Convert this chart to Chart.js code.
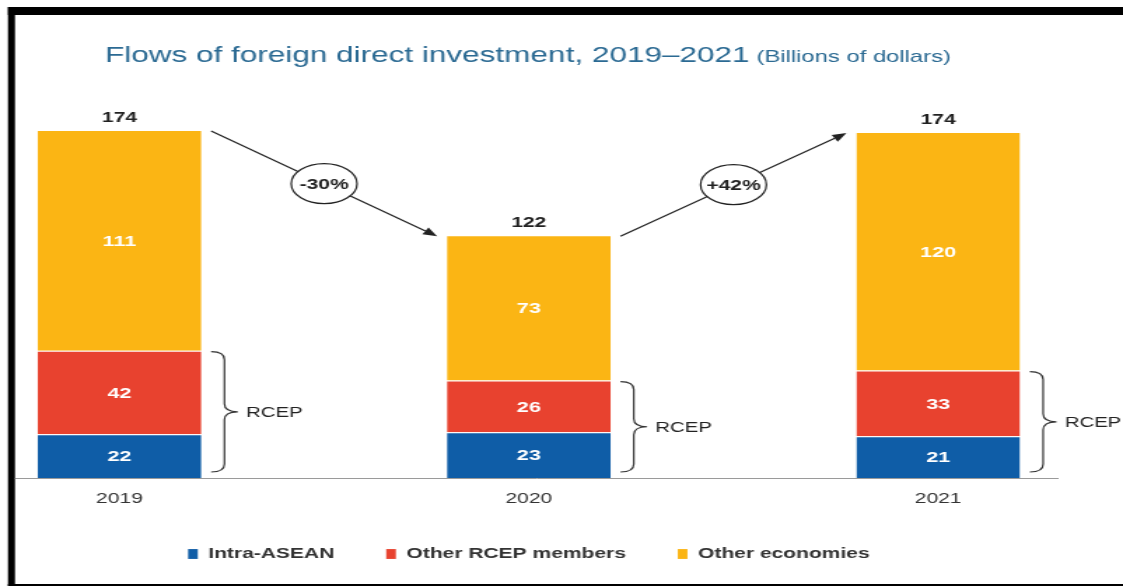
<!DOCTYPE html>
<html>
<head>
<meta charset="utf-8">
<title>Flows of foreign direct investment, 2019–2021</title>
<script src="https://cdn.jsdelivr.net/npm/chart.js@4/dist/chart.umd.min.js"></script>
<style>
  html, body { margin: 0; padding: 0; background: #fff; overflow: hidden; }
  /* the graphic is laid out narrow and widened to the page width */
  #wrap { position: absolute; left: 0; top: 0; width: 802px; height: 586px;
          transform: scaleX(1.40025); transform-origin: 0 0; }
</style>
</head>
<body>
<div id="wrap"><canvas id="fdiChart" width="802" height="586"></canvas></div>
<script>
// ===== FDI FLOWS INTO ASEAN, BY SOURCE =====

const years = ['2019', '2020', '2021'];
const intraAsean = [22, 23, 21];
const otherRcep = [42, 26, 33];
const otherEconomies = [111, 73, 120];
const totals = [174, 122, 174];
const changes = ['-30%', '+42%'];

const colors = {
  blue:   '#0f5da7',
  red:    '#e8422f',
  yellow: '#fbb514',
  ink:    '#222222',
  label:  '#333333',
  title:  '#2b6a93',
  axis:   '#9a9a9a'
};

Chart.defaults.font.family = "'Liberation Sans', Arial, sans-serif";

// ── keep the legend band a fixed height so the plot sits where we want ──
const legendBand = {
  id: 'legendBand',
  beforeInit(chart) {
    const fit = chart.legend.fit;
    chart.legend.fit = function () {
      fit.call(this);
      this.height = 76.5;
    };
  }
};

// ── page frame, title and the long baseline ──
const frameAndTitle = {
  id: 'frameAndTitle',
  beforeDraw(chart) {
    const { ctx, chartArea } = chart;
    ctx.save();
    ctx.fillStyle = '#fff';
    ctx.fillRect(0, 0, chart.width, chart.height);

    ctx.fillStyle = '#000';
    ctx.fillRect(5.7, 7, chart.width, 8);     // top bar
    ctx.fillRect(5.7, 7, 5, chart.height);    // left bar
    ctx.fillRect(5.7, 584, chart.width, 2);   // bottom rule

    ctx.fillStyle = colors.title;
    ctx.textBaseline = 'alphabetic';
    ctx.textAlign = 'left';
    ctx.font = "22.5px 'Liberation Sans', Arial, sans-serif";
    const main = 'Flows of foreign direct investment, 2019–2021';
    ctx.fillText(main, 75, 62);
    const w = ctx.measureText(main).width;
    ctx.font = "17px 'Liberation Sans', Arial, sans-serif";
    ctx.fillText('(Billions of dollars)', 75 + w + 5, 62);

    ctx.strokeStyle = colors.axis;
    ctx.lineWidth = 1;
    ctx.beginPath();
    ctx.moveTo(10.7, chartArea.bottom + 0.5);
    ctx.lineTo(chartArea.right + 86, chartArea.bottom + 0.5);
    ctx.stroke();
    ctx.restore();
  }
};

function drawArrow(ctx, x1, y1, x2, y2) {
  const ang = Math.atan2(y2 - y1, x2 - x1);
  const head = 10, half = 4;
  ctx.beginPath();
  ctx.moveTo(x1, y1);
  ctx.lineTo(x2 - head * Math.cos(ang), y2 - head * Math.sin(ang));
  ctx.stroke();
  ctx.beginPath();
  ctx.moveTo(x2, y2);
  ctx.lineTo(x2 - head * Math.cos(ang) + half * Math.sin(ang), y2 - head * Math.sin(ang) - half * Math.cos(ang));
  ctx.lineTo(x2 - head * Math.cos(ang) - half * Math.sin(ang), y2 - head * Math.sin(ang) + half * Math.cos(ang));
  ctx.closePath();
  ctx.fill();
}

function drawBrace(ctx, x, top, bottom) {
  const x0 = x + 7, xm = x + 16.5, tip = x + 26;
  const mid = (top + bottom) / 2, r = 8;
  ctx.beginPath();
  ctx.moveTo(x0, top);
  ctx.quadraticCurveTo(xm, top, xm, top + r);
  ctx.lineTo(xm, mid - r);
  ctx.quadraticCurveTo(xm, mid, tip, mid);
  ctx.quadraticCurveTo(xm, mid, xm, mid + r);
  ctx.lineTo(xm, bottom - r);
  ctx.quadraticCurveTo(xm, bottom, x0, bottom);
  ctx.stroke();
}

// ── values, totals, RCEP braces and change arrows ──
const barNotes = {
  id: 'barNotes',
  afterDatasetsDraw(chart) {
    const { ctx, chartArea } = chart;
    const metas = chart.data.datasets.map((_, i) => chart.getDatasetMeta(i));
    ctx.save();
    ctx.textAlign = 'center';

    // segment values
    ctx.fillStyle = '#fff';
    ctx.textBaseline = 'middle';
    ctx.font = "bold 15.5px 'Liberation Sans', Arial, sans-serif";
    metas.forEach((meta, i) => {
      meta.data.forEach((bar, j) => {
        ctx.fillText(String(chart.data.datasets[i].data[j]), bar.x, (bar.y + bar.base) / 2 + 1);
      });
    });

    // totals above each stack
    const tops = metas[metas.length - 1].data;
    ctx.fillStyle = colors.ink;
    ctx.textBaseline = 'alphabetic';
    ctx.font = "bold 15px 'Liberation Sans', Arial, sans-serif";
    tops.forEach((bar, j) => ctx.fillText(String(totals[j]), bar.x, bar.y - 8));

    // RCEP braces
    ctx.strokeStyle = '#333';
    ctx.lineWidth = 1.2;
    metas[1].data.forEach(bar => {
      const right = bar.x + bar.width / 2;
      const top = bar.y + 1, bottom = chartArea.bottom - 6;
      drawBrace(ctx, right, top, bottom);
      ctx.fillStyle = colors.ink;
      ctx.textAlign = 'left';
      ctx.textBaseline = 'middle';
      ctx.font = "14.5px 'Liberation Sans', Arial, sans-serif";
      ctx.fillText('RCEP', right + 32, (top + bottom) / 2 + 1);
    });

    // year-on-year change arrows
    ctx.strokeStyle = colors.ink;
    ctx.fillStyle = colors.ink;
    ctx.lineWidth = 1.2;
    changes.forEach((txt, i) => {
      const a = tops[i], b = tops[i + 1];
      const x1 = a.x + a.width / 2 + 7, y1 = a.y + 1;
      const x2 = b.x - b.width / 2 - 7, y2 = b.y + 1;
      drawArrow(ctx, x1, y1, x2, y2);
      const cx = (x1 + x2) / 2, cy = (y1 + y2) / 2;
      ctx.beginPath();
      ctx.ellipse(cx, cy, 23.5, 20, 0, 0, Math.PI * 2);
      ctx.fillStyle = '#fff';
      ctx.fill();
      ctx.stroke();
      ctx.fillStyle = colors.ink;
      ctx.textAlign = 'center';
      ctx.textBaseline = 'middle';
      ctx.font = "bold 15px 'Liberation Sans', Arial, sans-serif";
      ctx.fillText(txt, cx, cy + 1);
    });
    ctx.restore();
  }
};

const segBorder = { top: 1, right: 0, bottom: 0, left: 0 };

new Chart(document.getElementById('fdiChart'), {
  type: 'bar',
  data: {
    labels: years,
    datasets: [
      { label: 'Intra-ASEAN', data: intraAsean, backgroundColor: colors.blue },
      { label: 'Other RCEP members', data: otherRcep, backgroundColor: colors.red },
      { label: 'Other economies', data: otherEconomies, backgroundColor: colors.yellow }
    ]
  },
  options: {
    responsive: false,
    animation: false,
    layout: { padding: { left: 85.3, right: 132, top: 120, bottom: 0 } },
    datasets: {
      bar: {
        clip: false,
        categoryPercentage: 0.4,
        barPercentage: 1,
        borderWidth: segBorder,
        borderColor: 'rgba(255,255,255,0.55)'
      }
    },
    scales: {
      x: {
        stacked: true,
        offset: false,
        grid: { display: false, drawTicks: false },
        border: { display: false },
        ticks: { color: colors.label, font: { size: 15 }, padding: 12 },
        afterFit: s => { s.height = 31.5; }
      },
      y: { stacked: true, display: false, min: 0, max: 180 }
    },
    plugins: {
      legend: {
        position: 'bottom',
        labels: {
          color: colors.label,
          font: { size: 15, weight: 'bold' },
          boxWidth: 7,
          boxHeight: 10,
          padding: 37
        }
      },
      tooltip: { enabled: false }
    }
  },
  plugins: [legendBand, frameAndTitle, barNotes]
});
</script>
</body>
</html>
